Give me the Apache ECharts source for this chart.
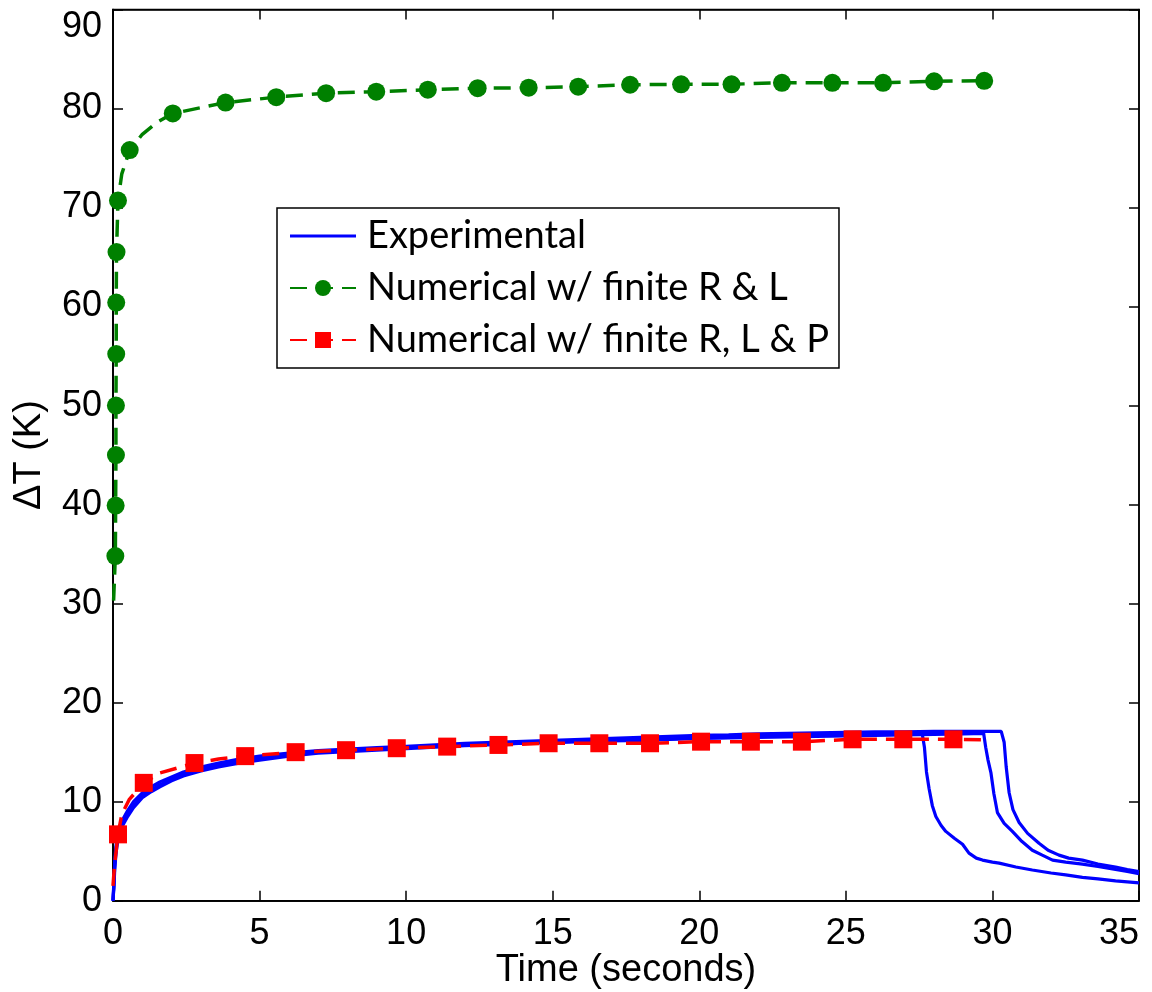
<!DOCTYPE html>
<html>
<head>
<meta charset="utf-8">
<script src="https://cdn.jsdelivr.net/npm/echarts@6/dist/echarts.min.js"></script>
<style>
html,body{margin:0;padding:0;background:#fff;}
#chart{width:1152px;height:992px;}
</style>
</head>
<body>
<div id="chart"></div>
<script>
// ---- Data ----
const xTicks = [0, 5, 10, 15, 20, 25, 30, 35];
const yTicks = [0, 10, 20, 30, 40, 50, 60, 70, 80, 90];

// Experimental run A (drops at ~27.7 s)
const expA_t = [0, 0.03, 0.06, 0.1, 0.15, 0.25, 0.35, 0.5, 0.7, 1.0, 1.3, 1.6, 2.0, 2.4, 3.0, 3.6, 4.3, 5.0, 6.0, 7.0, 8.0, 9.0, 10, 11, 12, 13, 14, 15, 16, 17, 18, 19, 20, 21, 22, 23, 24, 25, 26, 27, 27.6, 27.68, 27.75, 27.84, 27.95, 28.07, 28.25, 28.41, 28.7, 28.98, 29.2, 29.45, 29.66, 30.0, 30.23, 30.8, 31.36, 32.0, 32.5, 33.07, 33.6, 34.2, 34.6, 35.0];
const expA_v = [0, 1.3, 3.2, 4.7, 5.8, 7.0, 7.7, 8.5, 9.4, 10.4, 11.0, 11.5, 12.1, 12.6, 13.1, 13.5, 13.9, 14.2, 14.6, 14.9, 15.05, 15.2, 15.35, 15.5, 15.65, 15.75, 15.9, 16.0, 16.1, 16.2, 16.3, 16.35, 16.45, 16.5, 16.6, 16.65, 16.75, 16.8, 16.85, 16.9, 16.95, 15.5, 13.0, 11.3, 9.6, 8.5, 7.6, 7.0, 6.3, 5.7, 4.8, 4.3, 4.1, 3.9, 3.8, 3.4, 3.1, 2.8, 2.6, 2.35, 2.2, 2.0, 1.9, 1.8];

// Experimental run B (drops at ~29.8 s)
const expB_t = [0, 0.03, 0.06, 0.1, 0.15, 0.25, 0.35, 0.5, 0.7, 1.0, 1.3, 1.6, 2.0, 2.4, 3.0, 3.6, 4.3, 5.0, 6.0, 7.0, 8.0, 9.0, 10, 11, 12, 13, 14, 15, 16, 17, 18, 19, 20, 21, 22, 23, 24, 25, 26, 27, 28, 29, 29.7, 29.77, 29.85, 29.95, 30.05, 30.17, 30.4, 30.68, 31.0, 31.36, 31.7, 32.05, 32.5, 33.07, 33.6, 34.2, 34.6, 35.0];
const expB_v = [0, 1.6, 3.6, 5.1, 6.1, 7.2, 7.9, 8.7, 9.6, 10.6, 11.2, 11.7, 12.3, 12.8, 13.3, 13.7, 14.1, 14.4, 14.7, 15.0, 15.15, 15.3, 15.45, 15.6, 15.7, 15.8, 15.9, 15.95, 16.05, 16.15, 16.2, 16.3, 16.4, 16.45, 16.5, 16.55, 16.6, 16.65, 16.7, 16.75, 16.8, 16.85, 16.9, 15.5, 14.2, 12.9, 10.8, 8.9, 7.8, 7.0, 6.0, 5.1, 4.6, 4.1, 3.9, 3.7, 3.45, 3.15, 2.95, 2.72];

// Experimental run C (drops at ~30.4 s)
const expC_t = [0, 0.03, 0.06, 0.1, 0.15, 0.25, 0.35, 0.5, 0.7, 1.0, 1.3, 1.6, 2.0, 2.4, 3.0, 3.6, 4.3, 5.0, 6.0, 7.0, 8.0, 9.0, 10, 11, 12, 13, 14, 15, 16, 17, 18, 19, 20, 21, 22, 23, 24, 25, 26, 27, 28, 29, 30.3, 30.4, 30.47, 30.57, 30.7, 30.91, 31.2, 31.59, 31.9, 32.27, 32.6, 33.07, 33.6, 34.2, 34.6, 35.0];
const expC_v = [0, 1.9, 4.0, 5.5, 6.5, 7.6, 8.3, 9.1, 10.0, 10.9, 11.5, 12.0, 12.5, 13.0, 13.5, 13.9, 14.3, 14.6, 14.9, 15.15, 15.3, 15.45, 15.6, 15.75, 15.9, 16.0, 16.1, 16.2, 16.3, 16.4, 16.5, 16.6, 16.7, 16.75, 16.85, 16.9, 16.95, 17.0, 17.05, 17.05, 17.1, 17.1, 17.1, 16.0, 13.5, 10.9, 9.2, 7.9, 6.8, 5.8, 5.1, 4.6, 4.3, 4.1, 3.7, 3.4, 3.15, 2.95];

// Numerical w/ finite R & L (markers + a few unmarked line points)
const numRL_t = [0.02, 0.08, 0.09, 0.10, 0.10, 0.11, 0.11, 0.12, 0.17, 0.3, 0.57, 1.0, 1.5, 2.04, 3.84, 5.57, 7.27, 8.98, 10.74, 12.44, 14.18, 15.87, 17.64, 19.38, 21.1, 22.82, 24.54, 26.27, 28.01, 29.72];
const numRL_v = [30.3, 34.8, 39.9, 45.0, 50.0, 55.2, 60.4, 65.5, 70.7, 73.4, 75.8, 77.4, 78.6, 79.5, 80.6, 81.15, 81.55, 81.7, 81.9, 82.05, 82.1, 82.2, 82.4, 82.45, 82.45, 82.6, 82.6, 82.6, 82.75, 82.8];
const numRL_mark = [0, 1, 1, 1, 1, 1, 1, 1, 1, 0, 1, 0, 0, 1, 1, 1, 1, 1, 1, 1, 1, 1, 1, 1, 1, 1, 1, 1, 1, 1];

// Numerical w/ finite R, L & P
const numRLP_t = [0, 0.05, 0.17, 0.3, 0.55, 1.05, 1.6, 2.2, 2.78, 3.6, 4.51, 6.23, 7.95, 9.68, 11.4, 13.15, 14.86, 16.59, 18.32, 20.06, 21.76, 23.5, 25.23, 26.96, 28.67, 29.82];
const numRLP_v = [1.5, 3.5, 6.7, 8.7, 10.2, 11.9, 12.9, 13.4, 13.9, 14.3, 14.6, 15.0, 15.2, 15.4, 15.56, 15.73, 15.9, 15.9, 15.9, 16.06, 16.06, 16.06, 16.3, 16.3, 16.3, 16.25];
const numRLP_mark = [0, 0, 1, 0, 0, 1, 0, 0, 1, 0, 1, 1, 1, 1, 1, 1, 1, 1, 1, 1, 1, 1, 1, 1, 1, 0];

const legendNames = ['Experimental', 'Numerical w/ finite R & L', 'Numerical w/ finite R, L & P'];

// ---- Build ----
const zip = (t, v) => t.map((x, i) => [x, v[i]]);
const zipMarked = (t, v, m) => t.map((x, i) => m[i] ? { value: [x, v[i]] } : { value: [x, v[i]], symbol: 'none' });

const font = '"Liberation Sans", Arial, sans-serif';
const mkLine = () => ({ show: true, onZero: false, lineStyle: { color: '#000', width: 1.5 } });
const mkTick = () => ({ show: true, inside: true, length: 10, lineStyle: { color: '#000', width: 1.5 } });
const X_MIN = xTicks[0], X_MAX = xTicks[xTicks.length - 1];
const Y_MIN = yTicks[0], Y_MAX = yTicks[yTicks.length - 1];

// plain axis that only draws inward ticks (used for the box sides)
function tickAxis(pos, isX) {
  return {
    type: 'value', min: isX ? X_MIN : Y_MIN, max: isX ? X_MAX : Y_MAX,
    interval: isX ? 5 : 10, position: pos,
    axisLine: mkLine(), axisTick: mkTick(), splitLine: { show: false }, axisLabel: { show: false }
  };
}

function expSeries(t, v) {
  return {
    name: 'Experimental', type: 'line', data: zip(t, v), symbol: 'none', showSymbol: false,
    lineStyle: { color: '#0000FF', width: 3.2 }, itemStyle: { color: '#0000FF' }, z: 2
  };
}

const chart = echarts.init(document.getElementById('chart'), null, { renderer: 'canvas' });
chart.setOption({
  animation: false,
  backgroundColor: '#fff',
  grid: { left: 113, right: 13, top: 9.5, bottom: 91.3, containLabel: false, outerBoundsMode: 'none',
          show: true, borderColor: '#000', borderWidth: 1.5, backgroundColor: 'transparent' },
  xAxis: [
    {
      type: 'value', min: X_MIN, max: X_MAX, interval: 5, position: 'bottom',
      axisLine: mkLine(), axisTick: { show: false }, splitLine: { show: false },
      axisLabel: { color: '#000', fontSize: 36, fontFamily: font, margin: 15, alignMaxLabel: 'right' },
      name: 'Time (seconds)', nameLocation: 'middle', nameGap: 51, nameMoveOverlap: false,
      nameTextStyle: { color: '#000', fontSize: 38, fontFamily: font }
    },
    tickAxis('top', true),
    tickAxis('bottom', true)
  ],
  yAxis: [
    {
      type: 'value', min: Y_MIN, max: Y_MAX, interval: 10, position: 'left',
      axisLine: mkLine(), axisTick: { show: false }, splitLine: { show: false },
      axisLabel: { color: '#000', fontSize: 36, fontFamily: font, margin: 11, verticalAlignMaxLabel: 'top' },
      name: 'ΔT (K)', nameLocation: 'middle', nameGap: 64, nameMoveOverlap: false,
      nameTextStyle: { color: '#000', fontSize: 38, fontFamily: font }
    },
    tickAxis('right', false),
    tickAxis('left', false)
  ],
  legend: {
    data: [
      { name: legendNames[0], icon: 'path://M0 0 H66 V3 H0 Z' },
      { name: legendNames[1] },
      { name: legendNames[2] }
    ],
    orient: 'vertical', left: 277, top: 208,
    backgroundColor: '#fff', borderColor: '#000', borderWidth: 1.5, borderRadius: 0,
    padding: [6, 10, 6, 12], itemGap: 8, itemWidth: 66, itemHeight: 20,
    textStyle: { color: '#000', fontSize: 38, fontFamily: 'Lato, "Open Sans", sans-serif', lineHeight: 44, padding: [0, 0, 0, 6] },
    selectedMode: false
  },
  series: [
    expSeries(expA_t, expA_v),
    expSeries(expB_t, expB_v),
    expSeries(expC_t, expC_v),
    {
      name: legendNames[1], type: 'line', data: zipMarked(numRL_t, numRL_v, numRL_mark),
      symbol: 'circle', symbolSize: 18, showAllSymbol: true,
      lineStyle: { color: '#008000', width: 3.5, type: [17, 9] },
      itemStyle: { color: '#008000' }, z: 3
    },
    {
      name: legendNames[2], type: 'line', data: zipMarked(numRLP_t, numRLP_v, numRLP_mark),
      symbol: 'rect', symbolSize: 18, showAllSymbol: true,
      lineStyle: { color: '#FF0000', width: 3.5, type: [17, 9] },
      itemStyle: { color: '#FF0000' }, z: 4
    },
    { name: '_axesTR', type: 'line', xAxisIndex: 1, yAxisIndex: 1, data: [], silent: true, symbol: 'none' },
    { name: '_axesBL', type: 'line', xAxisIndex: 2, yAxisIndex: 2, data: [], silent: true, symbol: 'none' }
  ]
});
</script>
</body>
</html>
